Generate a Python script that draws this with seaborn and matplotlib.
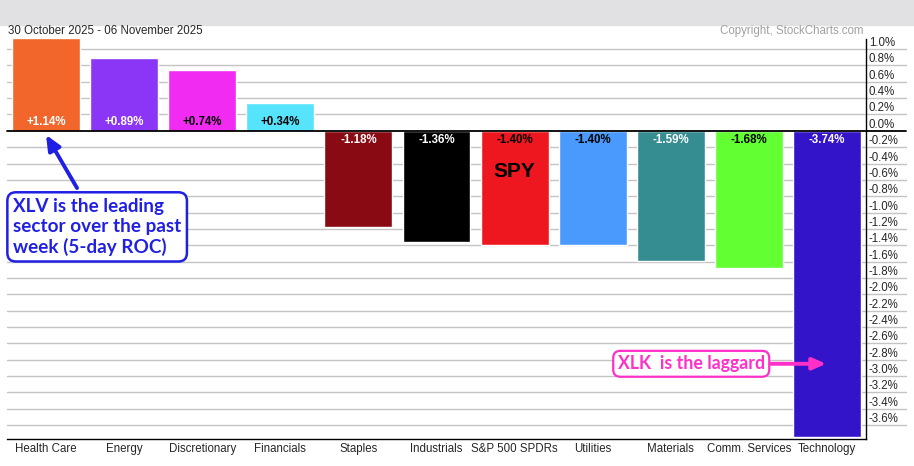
import numpy as np
import matplotlib
matplotlib.use("Agg")
import matplotlib.pyplot as plt
from matplotlib.patches import Rectangle
import seaborn as sns

# dados (ROC de 5 dias, %)
sectors = ["Health Care", "Energy", "Discretionary", "Financials", "Staples",
           "Industrials", "S&P 500 SPDRs", "Utilities", "Materials",
           "Comm. Services", "Technology"]
roc = [1.14, 0.89, 0.74, 0.34, -1.18, -1.36, -1.40, -1.40, -1.59, -1.68, -3.74]
colors = ["#f2652b", "#8b36f6", "#f22bf2", "#56e4fd", "#8a0a13", "#000000",
          "#ef171f", "#4a9afd", "#358d91", "#62ff33", "#3414c8"]
label_colors = ["white", "white", "black", "black", "white", "white",
                "black", "black", "white", "black", "white"]
yticks = [round(v, 1) for v in np.arange(-3.6, 1.01, 0.2)]

sns.set_style("white")
plt.rcParams["font.family"] = ["Liberation Sans", "DejaVu Sans"]

W, H = 914, 466
fig = plt.figure(figsize=(W / 100, H / 100), dpi=100)
ax = fig.add_axes([7 / W, 1 - 439 / H, (866 - 7) / W, (439 - 36) / H])

# faixa cinza do topo
fig.patches.append(Rectangle((0, 1 - 25 / H), 1, 25 / H, transform=fig.transFigure,
                             color="#e1e1e4", zorder=0))

sns.barplot(x=sectors, y=roc, hue=sectors, palette=colors, saturation=1,
            width=0.87, legend=False, ax=ax, zorder=3)

ax.set_xlim(-0.5, len(sectors) - 0.5)
ax.set_ylim(-3.77, 1.16)

# linhas de grade que passam por baixo dos rótulos da direita
xmax = (906 - 7) / (866 - 7)
for v in yticks:
    if v == 0:
        continue
    ax.axhline(v, xmin=0, xmax=xmax, color="#c4c4c4", lw=1, clip_on=False, zorder=1)
ax.axhline(0, xmin=0, xmax=xmax, color="black", lw=1.3, clip_on=False, zorder=4)

ax.yaxis.tick_right()
ax.set_yticks(yticks)
ax.set_yticklabels([f"{v:.1f}%" for v in yticks])
for lab in ax.get_yticklabels():
    lab.set_va("bottom")
ax.tick_params(axis="y", length=0, pad=2, labelsize=8.3)
ax.tick_params(axis="x", length=0, pad=3, labelsize=8.3)
ax.set_xlabel("")
ax.set_ylabel("")

for s in ["left", "top"]:
    ax.spines[s].set_visible(False)
ax.spines["right"].set_bounds(-3.77, 1.12)
ax.spines["right"].set_color("black")
ax.spines["bottom"].set_color("black")
ax.spines["right"].set_linewidth(1)
ax.spines["bottom"].set_linewidth(1)

# valores nas barras
for i, (v, c) in enumerate(zip(roc, label_colors)):
    off = 6.5 if v < 0 else -6.5
    ax.annotate(f"{v:+.2f}%", xy=(i, 0), xytext=(0, -off), textcoords="offset points",
                ha="center", va="center", color=c, fontsize=8.3, fontweight="bold", zorder=5)

ax.text(6, -0.5, "SPY", ha="center", va="center", fontsize=15, fontweight="bold",
        color="black", zorder=5)

fig.text(8 / W, 1 - 31 / H, "30 October 2025 - 06 November 2025", fontsize=8.3,
         va="center", ha="left")
fig.text(863 / W, 1 - 31 / H, "Copyright, StockCharts.com", fontsize=8.3,
         va="center", ha="right", color="#a0a0a0")

# anotações
blue = "#2020e4"
ax.annotate("", xy=(0, -0.05), xytext=(0.397, -0.70),
            arrowprops=dict(arrowstyle="-|>,head_length=0.9,head_width=0.4",
                            color=blue, lw=2.8, shrinkA=0, shrinkB=0), zorder=6)
ax.text(-0.423, -1.175, "XLV is the leading\nsector over the past\nweek (5-day ROC)",
        ha="left", va="center", color=blue, fontsize=13.6, fontweight="bold",
        family=["Lato", "DejaVu Sans"], linespacing=1.2, zorder=7,
        bbox=dict(boxstyle="round,pad=0.3,rounding_size=0.45", fc="white", ec=blue, lw=1.8))

pink = "#ff2fc8"
ax.annotate("", xy=(9.99, -2.85), xytext=(9.28, -2.85),
            arrowprops=dict(arrowstyle="-|>,head_length=0.8,head_width=0.35",
                            color=pink, lw=2.8, shrinkA=0, shrinkB=0), zorder=6)
ax.text(7.32, -2.85, "XLK  is the laggard", ha="left", va="center", color=pink,
        fontsize=12.8, fontweight="bold", family=["Lato", "DejaVu Sans"], zorder=7,
        bbox=dict(boxstyle="round,pad=0.25,rounding_size=0.4", fc="white", ec=pink, lw=1.6))

fig.savefig("out.png", dpi=100)
